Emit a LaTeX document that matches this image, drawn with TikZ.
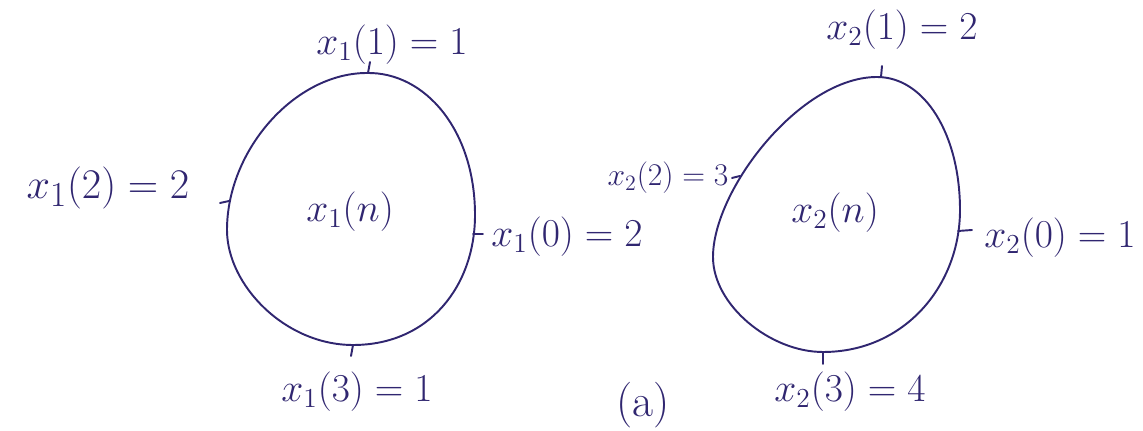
\documentclass[tikz,border=0pt]{standalone}
\usepackage{tikz}
\definecolor{ink}{RGB}{48,38,112}
\begin{document}
\begin{tikzpicture}[x=0.02cm,y=-0.02cm,
  ink line/.style={draw=ink,line width=1.1pt,line cap=round,line join=round},
  lbl/.style={text=ink,inner sep=0pt,font=\huge,scale=1.085,transform shape},
  biglbl/.style={text=ink,inner sep=0pt,font=\Huge,transform shape},
  smalllbl/.style={text=ink,inner sep=0pt,font=\LARGE,scale=1.04,transform shape}]
\useasboundingbox (0,0) rectangle (1143,431);
% left circular sequence
\draw[ink line] (367,73) .. controls (425,72) and (475,130) .. (475,215)
  .. controls (475,285) and (430,345) .. (353,345)
  .. controls (285,345) and (227,285) .. (227,230)
  .. controls (227,150) and (295,73) .. cycle;
\coordinate (t11a) at (370,62); \coordinate (t11b) at (368,73);
\draw[ink line] (t11a) -- (t11b);
\coordinate (t12a) at (220,203); \coordinate (t12b) at (229,201);
\draw[ink line] (t12a) -- (t12b);
\coordinate (t10a) at (473,234); \coordinate (t10b) at (483,234);
\draw[ink line] (t10a) -- (t10b);
\coordinate (t13a) at (353,345); \coordinate (t13b) at (351,356);
\draw[ink line] (t13a) -- (t13b);
% right circular sequence
\draw[ink line] (877,77) .. controls (925,77) and (960,135) .. (960,210)
  .. controls (960,285) and (905,352) .. (823,352)
  .. controls (770,352) and (713,305) .. (713,257)
  .. controls (713,190) and (800,77) .. cycle;
\coordinate (t21a) at (882,66); \coordinate (t21b) at (881,77);
\draw[ink line] (t21a) -- (t21b);
\coordinate (t22a) at (732,178); \coordinate (t22b) at (740,176);
\draw[ink line] (t22a) -- (t22b);
\coordinate (t20a) at (958,231); \coordinate (t20b) at (972,230);
\draw[ink line] (t20a) -- (t20b);
\coordinate (t23a) at (823,352); \coordinate (t23b) at (823,364);
\draw[ink line] (t23a) -- (t23b);
% labels left
\node[lbl] (l11) at (392,45) {$x_1(1)=1$};
\node[biglbl,scale=0.965] (l12) at (108,188) {$x_1(2) = 2$};
\node[lbl] (l1n) at (350,212) {$x_1(n)$};
\node[lbl] (l10) at (567,237) {$x_1(0)=2$};
\node[lbl] (l13) at (357,392) {$x_1(3)=1$};
% labels right
\node[lbl] (l21) at (902,30) {$x_2(1)=2$};
\node[smalllbl] (l22) at (668,178) {$x_2(2)=3$};
\node[lbl] (l2n) at (835,213) {$x_2(n)$};
\node[lbl] (l20) at (1060,238) {$x_2(0)=1$};
\node[lbl] (l23) at (850,392) {$x_2(3)=4$};
\node[biglbl,scale=1.045] (cap) at (643,405) {(a)};
\end{tikzpicture}
\end{document}
